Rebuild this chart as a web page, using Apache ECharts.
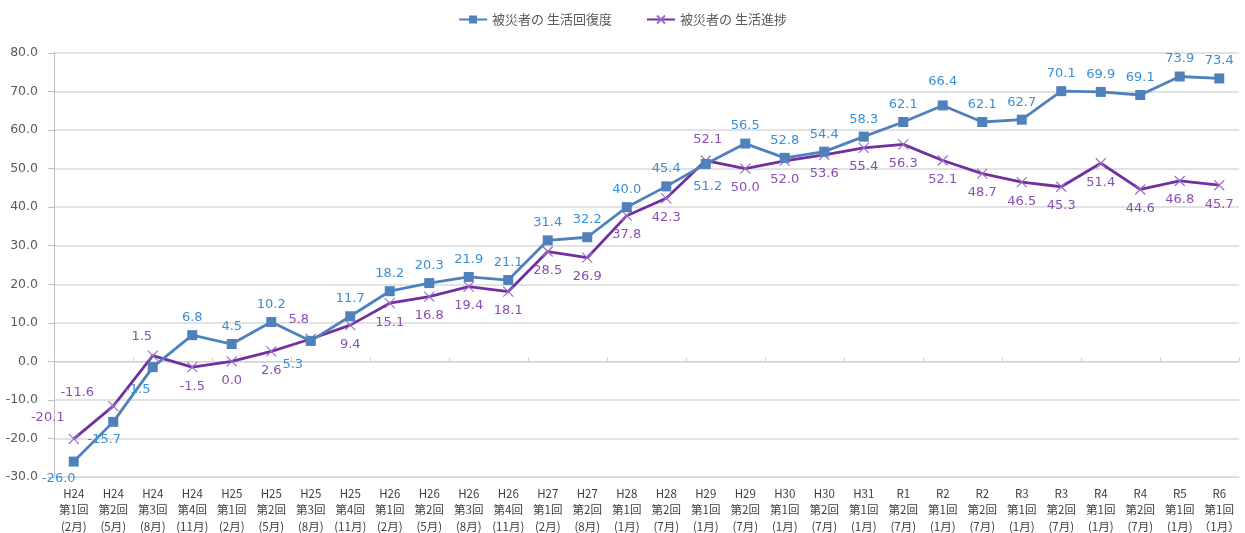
<!DOCTYPE html>
<html>
<head>
<meta charset="utf-8">
<script src="https://cdn.jsdelivr.net/npm/echarts@6/dist/echarts.min.js"></script>
<style>html,body{margin:0;padding:0;background:#fff}#c{width:1245px;height:533px}</style>
</head>
<body>
<div id="c"></div>
<script>
const categories = [
  "H24\n第1回\n(2月)","H24\n第2回\n(5月)","H24\n第3回\n(8月)","H24\n第4回\n(11月)",
  "H25\n第1回\n(2月)","H25\n第2回\n(5月)","H25\n第3回\n(8月)","H25\n第4回\n(11月)",
  "H26\n第1回\n(2月)","H26\n第2回\n(5月)","H26\n第3回\n(8月)","H26\n第4回\n(11月)",
  "H27\n第1回\n(2月)","H27\n第2回\n(8月)","H28\n第1回\n(1月)","H28\n第2回\n(7月)",
  "H29\n第1回\n(1月)","H29\n第2回\n(7月)","H30\n第1回\n(1月)","H30\n第2回\n(7月)",
  "H31\n第1回\n(1月)","R1\n第2回\n(7月)","R2\n第1回\n(1月)","R2\n第2回\n(7月)",
  "R3\n第1回\n(1月)","R3\n第2回\n(7月)","R4\n第1回\n(1月)","R4\n第2回\n(7月)",
  "R5\n第1回\n(1月)","R6\n第1回\n（1月）"
];
const seriesNames = ["被災者の 生活回復度", "被災者の 生活進捗"];
const recovery = [-26.0,-15.7,-1.5,6.8,4.5,10.2,5.3,11.7,18.2,20.3,21.9,21.1,31.4,32.2,40.0,45.4,51.2,56.5,52.8,54.4,58.3,62.1,66.4,62.1,62.7,70.1,69.9,69.1,73.9,73.4];
const progress = [-20.1,-11.6,1.5,-1.5,0.0,2.6,5.8,9.4,15.1,16.8,19.4,18.1,28.5,26.9,37.8,42.3,52.1,50.0,52.0,53.6,55.4,56.3,52.1,48.7,46.5,45.3,51.4,44.6,46.8,45.7];
const yMin = -30, yMax = 80, yStep = 10;

// label placement tweaks (index -> [position, offsetX, offsetY])
const recoveryLabelPlace = {0:['bottom',-15,0],1:['bottom',-9,0],2:['bottom',-15,5],6:['bottom',-18,6],16:['bottom',2,5],22:['top',0,-6]};
const progressLabelPlace = {0:['top',-26,-2],1:['top',-36,6],2:['top',-11,0],6:['top',-12,0],16:['top',2,-2]};

function build(values, place, defPos) {
  return values.map((v, i) => {
    const p = place[i];
    const item = { value: v };
    if (p) item.label = { position: p[0], offset: [p[1], p[2]] };
    else item.label = { position: defPos };
    return item;
  });
}

const chart = echarts.init(document.getElementById('c'));
const font = '"DejaVu Sans", "Noto Sans CJK JP", sans-serif';
chart.setOption({
  animation: false,
  textStyle: { fontFamily: font },
  legend: {
    top: 8, left: 'center', itemGap: 34, itemWidth: 28, itemHeight: 10,
    textStyle: { fontSize: 13, color: '#595959', fontFamily: '"Noto Sans CJK JP", sans-serif' },
    data: seriesNames
  },
  grid: { left: 54, right: 6, top: 53, bottom: 56, containLabel: false, outerBoundsMode: 'none' },
  xAxis: [
    {
      type: 'category', data: categories, position: 'bottom',
      axisLine: { onZero: false, lineStyle: { color: '#d9d9d9' } },
      axisTick: { show: false },
      axisLabel: { interval: 0, color: '#404040', fontSize: 11.5, lineHeight: 16.5, margin: 8,
        fontFamily: '"Noto Sans CJK JP", sans-serif' }
    },
    {
      type: 'category', data: categories, position: 'bottom',
      axisLine: { onZero: true, lineStyle: { color: '#d0d0d0' } },
      axisTick: { show: true, inside: true, length: 4, lineStyle: { color: '#d0d0d0' } },
      axisLabel: { show: false }
    }
  ],
  yAxis: {
    type: 'value', min: yMin, max: yMax, interval: yStep,
    axisLine: { show: true, lineStyle: { color: '#bfbfbf' } },
    axisTick: { show: true, length: 6, lineStyle: { color: '#bfbfbf' } },
    splitLine: { lineStyle: { color: '#d9d9d9', width: 1.5 } },
    axisLabel: { color: '#595959', fontSize: 12.5, margin: 16, formatter: v => v.toFixed(1) }
  },
  series: [
    {
      name: seriesNames[0], type: 'line', data: build(recovery, recoveryLabelPlace, 'top'),
      symbol: 'rect', symbolSize: 10,
      lineStyle: { color: '#4f81bd', width: 2.8 },
      itemStyle: { color: '#4f81bd' },
      label: { show: true, distance: 6, color: '#3a8fd6', fontSize: 13, formatter: p => p.value.toFixed(1) },
      z: 3
    },
    {
      name: seriesNames[1], type: 'line', data: build(progress, progressLabelPlace, 'bottom'),
      symbol: 'path://M0,0 L10,10 M10,0 L0,10', symbolSize: 10,
      lineStyle: { color: '#7030a0', width: 2.8 },
      itemStyle: { color: '#7030a0', borderColor: '#9b6cc9', borderWidth: 1.2 },
      label: { show: true, distance: 7, color: '#8a4fb5', fontSize: 13, formatter: p => p.value.toFixed(1) },
      z: 2
    }
  ]
});
</script>
</body>
</html>
